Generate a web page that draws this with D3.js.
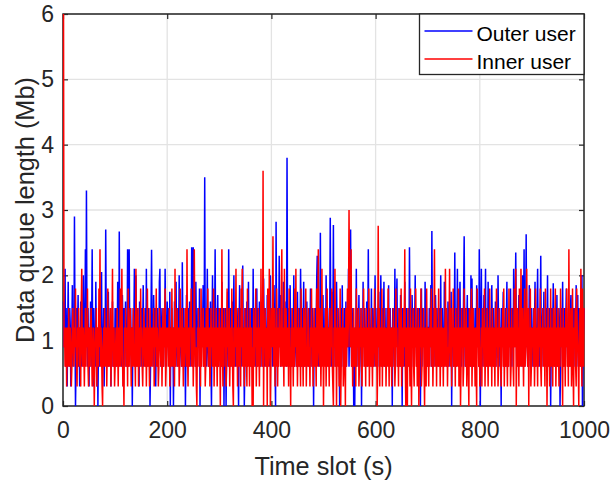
<!DOCTYPE html>
<html>
<head>
<meta charset="utf-8">
<script src="https://cdn.jsdelivr.net/npm/d3@7"></script>
<style>
  body { margin: 0; background: #fff; }
  text { font-family: "Liberation Sans", Arial, Helvetica, sans-serif; fill: #262626; }
</style>
</head>
<body>
<svg id="chart" width="611" height="480"></svg>
<script>
// ---- data (Mb per time slot 1..1000) ----
var xTicks = [0, 200, 400, 600, 800, 1000];
var yTicks = [0, 1, 2, 3, 4, 5, 6];
var seriesNames = ["Outer user", "Inner user"];
var seriesColors = ["#0000ff", "#ff0000"];

var outerUser = [
  // 1-100
  1.6,0.9,1.2,2.1,0.6,1.5,0.9,0.3,1.2,1.9,
  0.9,0.6,1.5,1.2,0.3,0.9,1.2,1.85,0.6,1.2,
  0.9,2.9,1.2,0,0.6,1.5,0.9,1.2,1.7,0.6,
  1.2,0.3,0.9,1.6,1.2,0.6,0.9,1.5,2.0,0.9,
  0.6,1.2,2.4,0.9,3.3,1.2,0.6,1.5,0.9,0.3,
  1.2,0.9,1.6,0.6,1.2,2.4,0.9,0.3,1.5,0.9,
  1.2,0.6,1.9,0.9,0.3,1.2,0,0.9,1.5,0.6,
  1.2,0.9,1.6,2.05,0.6,1.2,0.9,1.5,0.3,1.2,
  0.9,2.7,1.2,0.6,1.5,0.9,1.75,0.6,1.2,0.9,
  1.5,0.3,1.2,0.9,1.6,0.6,0.9,1.2,0.6,1.5,
  // 101-200
  1.2,0.6,1.5,0.9,1.9,1.2,0.6,2.67,0.9,1.2,
  1.5,0.6,0.9,1.7,1.2,0.3,1.5,0.9,1.2,1.6,
  0.6,1.2,0.9,2.4,1.5,0.6,2.4,1.2,0.9,1.5,
  0.6,1.2,0,0.9,1.5,1.2,2.1,0.6,0.9,2.0,
  1.2,0.6,1.5,0.9,1.2,0.3,1.6,0.9,1.2,0.6,
  1.5,0.9,1.2,1.85,0.6,0.9,1.2,1.5,0.6,2.1,
  0.9,1.2,0.6,1.5,0.9,1.2,0,0.6,1.5,2.39,
  1.2,0.9,0.6,1.7,1.2,0.9,1.5,0.3,1.2,0.9,
  1.5,0.6,1.2,0.9,1.9,2.1,0.9,0.6,1.2,1.5,
  0.9,1.2,0.6,1.5,0.9,2.1,1.2,0.6,0.9,1.6,
  // 201-300
  1.2,0.9,1.5,0.6,1.75,0,1.2,0.9,1.5,0.6,
  1.2,0,0.9,1.6,0.6,1.2,1.9,0.9,0.6,1.5,
  1.2,0.9,2.0,0.6,1.2,1.5,0.9,0.6,2.2,1.2,
  0.9,1.5,0.6,1.2,0,0.9,1.7,1.2,0.6,1.5,
  0.9,1.2,1.6,0.6,1.2,0.9,2.43,1.5,0.6,2.43,
  1.2,0.9,1.5,0.6,1.9,1.2,0.9,0.6,1.5,1.2,
  0.9,1.8,0,1.2,0.6,1.5,0.9,1.2,1.85,0.6,
  1.2,3.5,0.9,1.5,0.6,1.2,2.1,0.9,0.6,1.5,
  1.2,0.9,1.6,0.6,0,1.2,2.0,0.9,1.5,0.6,
  1.2,2.4,0.9,1.5,0.6,1.2,1.7,0.9,0.6,1.5,
  // 301-400
  1.2,0.9,1.5,0.6,1.9,1.2,0.9,1.5,0,1.2,
  0.6,1.5,0,0.9,1.2,1.75,0.6,2.4,1.2,0.9,
  1.5,0.6,1.2,0.9,1.6,0.6,1.2,2.0,0.9,1.5,
  0.6,1.2,0.9,1.5,1.2,0.6,0,1.2,1.85,0.9,
  1.5,0.6,1.2,1.7,2.15,0.9,1.2,0,0.6,1.5,
  1.2,0.9,1.6,0.6,1.2,1.9,0.9,1.5,0.6,1.2,
  0.9,1.5,1.2,0.6,2.1,0.9,1.2,1.5,0.6,0.9,
  1.2,1.8,0.6,1.5,0.9,1.2,1.6,0.6,1.2,0.9,
  1.5,0.6,1.2,0.9,1.95,1.2,0.6,1.5,0.9,1.2,
  0.6,1.7,1.2,0.9,1.5,0.6,1.2,2.0,0.9,1.5,
  // 401-500
  1.2,0.6,1.5,0.9,1.85,1.2,0.6,0,2.82,1.2,
  0.9,1.5,0.6,1.2,2.3,0.9,1.7,0.6,1.2,1.5,
  0.9,1.2,1.9,0.6,1.5,1.2,0.9,1.6,0.6,3.8,
  1.2,0.9,1.5,0.6,1.2,1.85,0.9,1.2,0.6,1.5,
  1.2,0.9,2.0,0.6,1.2,1.5,0.9,0.6,1.2,1.75,
  0.9,1.2,0.6,1.5,0.9,2.1,1.2,0.6,1.5,0.9,
  1.2,1.9,0.6,0.9,1.5,1.2,0.6,1.6,0.9,1.2,
  0.6,1.5,1.2,0.9,1.8,0.6,1.2,0.9,1.5,1.2,
  0,1.2,0.9,1.5,0.6,1.2,1.95,2.3,0.9,1.2,
  0.6,1.5,1.2,2.65,0.9,0.6,1.5,1.2,1.7,0.9,
  // 501-600
  1.2,0.9,1.5,0.6,2.0,1.2,0.9,1.5,0.6,1.2,
  0.9,1.5,2.88,1.2,0.6,1.75,0.9,1.2,2.77,0.6,
  1.5,0.9,1.2,0.6,1.9,1.2,0.9,1.5,0.6,1.2,
  0,0.9,1.5,1.2,0.6,1.85,0.9,1.2,0.6,1.5,
  1.2,0.9,1.6,0.6,1.2,1.5,0.9,2.1,0.6,1.2,
  0.9,2.7,1.2,0.6,1.5,0.9,1.2,0,0.6,0,
  1.2,0.9,2.1,0.6,1.5,1.2,0.9,1.7,0.6,1.2,
  0.9,1.5,0,1.2,0.6,1.9,0.9,1.2,1.5,0.6,
  1.2,0.9,1.6,0.6,1.2,2.4,0.9,1.5,0.6,1.2,
  0.9,1.8,0.6,1.2,1.5,0.9,0.6,1.2,2.0,0.9,
  // 601-700
  1.2,0.6,1.5,0.9,1.2,1.75,0.6,1.2,0.9,2.0,
  1.2,0.6,1.5,0.9,1.2,1.9,0.6,1.5,0.9,1.2,
  0.6,1.5,1.2,0.9,1.85,0.6,1.2,1.5,0.9,0.6,
  1.2,0,1.5,0.9,1.2,0.6,2.1,0.9,1.2,1.5,
  1.95,0.6,1.2,0.9,1.5,1.2,0.6,1.7,0.9,1.2,
  0,1.5,0.9,1.2,0.6,1.9,1.2,0.9,1.5,0.6,
  1.2,0.9,1.5,0.6,2.43,1.2,0.9,1.5,0.6,1.7,
  1.2,0.9,1.5,0.6,1.2,2.0,0.9,1.2,0.6,1.5,
  0.9,1.2,0.6,1.5,1.2,0,0.9,1.8,0.6,1.2,
  1.5,0.9,1.2,0.6,1.9,1.2,0.9,1.5,0.6,1.2,
  // 701-800
  1.2,0.6,1.5,0.9,1.2,1.85,0.6,2.68,1.2,0.9,
  1.5,0.6,1.2,0.9,1.7,1.2,0.6,1.5,0.9,1.2,
  0.6,1.5,1.2,0.9,2.0,0.6,1.2,1.5,0.9,1.2,
  0.6,1.9,1.2,0.9,1.5,0.6,1.2,0.9,1.6,1.2,
  0.6,1.5,0.9,1.2,1.75,0,1.2,0.9,1.5,0.6,
  1.2,2.35,0.9,1.5,0.6,1.2,2.1,0.9,1.2,0.6,
  1.5,1.9,0.9,1.2,0.6,1.5,1.2,0.9,1.8,2.6,
  1.2,0.6,1.5,0.9,1.2,1.7,0.6,1.2,1.5,0.9,
  1.2,0.6,2.0,1.2,1.95,0.9,1.5,0.6,1.2,0.9,
  1.5,1.2,0.6,1.85,0.9,1.2,1.5,0.6,2.4,1.2,
  // 801-900
  0,1.2,2.1,0.9,1.5,0.6,1.2,1.7,0.9,1.2,
  2.1,0.6,1.5,1.2,0.9,1.9,0.6,1.2,1.5,0.9,
  1.2,0.6,1.85,1.2,0.9,1.5,0.6,1.2,0.9,1.6,
  0.6,1.2,1.5,0.9,2.0,1.2,0.6,1.5,0.9,1.2,
  0,1.5,0.9,1.2,1.75,0.6,1.2,0.9,1.5,0.6,
  1.2,1.9,0.9,1.2,0.6,1.5,0.9,1.2,1.8,0.6,
  1.2,0.9,1.5,0.6,2.1,1.2,0.9,1.5,2.35,1.2,
  0.6,1.5,0.9,1.2,1.7,0.6,1.2,0.9,1.5,1.2,
  0.6,2.0,0.9,1.2,2.4,0.6,1.5,1.2,2.63,0.9,
  1.2,0.6,1.5,0.9,1.85,1.2,0.6,1.2,1.5,0.9,
  // 901-1000
  1.2,0.6,1.5,0.9,1.2,1.9,0.6,1.2,0.9,1.5,
  2.1,0.9,1.2,0.6,1.5,1.2,2.3,0.9,0.6,1.2,
  1.5,0.9,1.75,0.6,1.2,0.9,1.5,0.6,1.2,2.0,
  0.9,1.2,0.6,1.5,1.2,0,0.9,1.5,0.6,1.2,
  1.88,0.9,1.2,0.6,1.5,1.2,0.9,1.7,0.6,1.2,
  0.9,1.5,1.2,0,0.6,1.5,0.9,1.2,1.9,0.6,
  1.2,0.9,1.5,0.6,1.2,1.8,0.9,1.2,0.6,1.5,
  1.2,0.9,0.6,1.5,1.7,1.2,0.9,0.6,1.5,1.2,
  0.9,1.5,0.6,1.2,1.85,0.9,1.2,1.7,0.6,1.5,
  1.2,0.9,1.5,0.6,1.2,2.0,0,0.9,1.2,1.5
];

var innerUser = [
  // 1-100
  6.0,0.9,1.2,0.6,0.9,1.2,0.3,0.9,1.2,0.6,
  1.5,0.9,0.6,1.2,0.9,0.3,0.6,1.2,1.5,0.9,
  0.6,1.2,0.9,1.8,0.9,0.6,0.3,1.2,0.9,1.5,
  0.6,0.9,1.2,0.3,1.5,2.1,0.9,0.6,1.2,0.9,
  0.3,0.9,1.5,0.6,1.2,0.9,1.8,0.6,0.3,1.2,
  0.9,0.6,1.2,1.5,0.9,0.3,0.6,1.2,0.9,0,
  0.6,1.2,0.9,1.5,0.3,0.9,1.2,0.6,1.8,0.9,
  2.4,0.6,1.2,0.9,0.3,0,0.9,1.2,0.6,1.5,
  0.9,0.6,1.2,0.3,0.9,1.8,0.6,1.2,0.9,0.6,
  1.5,0.3,0.9,1.2,2.1,0.6,0.9,1.2,0.3,0.6,
  // 101-200
  0.9,1.2,0.6,1.5,0.9,0.3,1.2,0.6,0.9,1.8,
  0.6,1.2,2.1,0.9,0.3,0.6,0,1.2,0.9,1.5,
  0.6,0.9,1.2,0.3,1.8,0.9,0.6,1.2,1.5,0.9,
  0.3,1.2,0.9,0.6,1.5,1.2,0.6,0.9,0.3,2.1,
  0.9,0.6,1.2,1.5,0.3,0.9,1.2,0.6,1.8,0.9,
  1.2,0.6,0.3,0.9,1.5,1.2,0.6,0.9,1.2,0.3,
  0.9,1.8,0.6,1.2,0.9,0.3,1.5,0.6,1.2,0.9,
  0.6,1.2,0.9,1.5,0.3,0.6,1.2,0.9,1.8,0.6,
  1.2,0.9,0.3,0.6,1.5,1.2,0.9,0.6,1.2,0.3,
  0.9,1.5,0.6,1.2,0.9,1.8,0.3,0.6,1.2,0.9,
  // 201-300
  1.2,0.6,0.9,1.5,0.3,1.2,0.9,0.6,1.8,0.9,
  0.6,1.2,0.9,0.3,2.1,0.6,1.2,0.9,1.5,0.6,
  0.9,1.2,0.3,0.6,1.8,0.9,1.2,0.6,1.5,0.9,
  0.3,1.2,0.6,0.9,1.5,1.2,0.6,2.4,0.9,0.3,
  1.2,0.9,0.6,1.5,1.2,1.8,0.6,0.9,1.2,0.3,
  0.9,2.4,1.2,0.6,0.9,0.3,0,1.2,0.9,1.5,
  0.6,1.2,0.9,0.3,1.8,0.6,1.2,0.9,1.5,0.6,
  0.9,1.2,0.3,0.6,1.5,0.9,1.2,1.8,0.6,0.9,
  1.2,0.3,0.6,1.5,0.9,1.2,0.6,0.9,1.8,0.3,
  0.9,1.2,0.6,1.5,0.9,0.3,1.2,0.6,0.9,1.5,
  // 301-400
  0.9,0,1.2,0.6,2.4,0.9,0.3,1.2,0.6,1.5,
  0.9,1.2,0.3,0.6,1.8,0.9,1.2,0.6,1.5,0.3,
  0.9,1.2,0.6,1.8,0.9,0.3,0,1.2,0.6,1.5,
  0.9,2.1,0.6,1.2,0.3,0.9,1.5,0.6,1.2,0.9,
  0.3,1.8,0.9,2.1,0.6,1.2,0.9,0.3,1.5,0.6,
  1.2,0.9,0.3,1.8,0.6,0.9,1.2,0.3,1.5,0.9,
  0.6,1.2,0,0.9,0,1.5,0.6,1.2,0.9,1.8,
  0.3,0.9,1.2,0.6,1.5,0.9,0.3,1.2,0.6,2.1,
  0.9,1.2,0.6,3.6,0,1.2,0.9,1.5,0.6,0.9,
  1.2,0,1.8,0.6,0.9,2.1,1.2,0,0.6,1.5,
  // 401-500
  0.9,1.2,2.6,0.6,0.9,1.5,0.3,1.2,0.6,1.8,
  0.9,0.3,1.2,0.6,1.5,0.9,1.2,0.6,1.8,2.4,
  0.6,1.2,0.9,0.3,2.1,0.9,0.6,1.5,1.2,0.6,
  0.9,1.2,0.3,1.8,0.6,0.9,0,1.2,0.6,1.5,
  0.9,0.3,1.2,0.6,1.8,0.9,2.1,0.6,1.2,0.3,
  0.9,1.5,0.6,1.2,0.9,0.3,1.8,0.6,1.2,0.9,
  0.3,1.5,0.9,0.6,1.2,1.8,0.3,0.9,0.6,1.2,
  1.5,0.6,0.9,0.3,1.2,0.9,1.8,0.6,1.2,0.3,
  0.9,1.5,0.6,1.2,0.9,0.3,1.8,0.6,1.2,2.4,
  0.9,0.6,1.5,1.2,0.3,0.9,2.1,0.6,1.2,0,
  // 501-600
  0.9,1.2,0.6,1.5,0.3,0.9,1.8,0.6,1.2,0.9,
  0.3,1.5,0.6,1.2,0.9,1.8,0.6,0.3,0,1.2,
  0.9,2.1,0.6,1.2,0,0.9,1.5,0.6,1.2,0.3,
  0.9,1.8,0,0.6,1.2,0.9,1.5,0.3,0.6,1.2,
  0.9,0,1.5,0.6,1.2,1.8,0.9,1.5,3.0,1.8,
  0.9,1.5,2.4,0.6,1.2,0.3,0.9,1.5,0.6,1.2,
  0.9,0.3,1.8,0.6,1.2,0.9,1.5,0.3,0.6,1.2,
  0.9,1.5,0.6,0.3,1.2,0.9,1.8,0.6,0.9,1.2,
  0.3,1.5,0.6,0.9,1.2,0.6,1.8,0.3,0.9,1.2,
  0.6,1.5,0.9,0.3,1.2,0.6,0.9,1.8,1.2,0.6,
  // 601-700
  0.9,1.2,0,0.6,2.76,0.9,1.5,0.3,1.2,0.6,
  0.9,1.8,0.3,1.2,0.6,0.9,1.5,0.6,1.2,0.3,
  0.9,1.2,0.6,1.8,0.9,0.3,1.5,0.6,1.2,0.9,
  0.3,1.2,0.6,1.5,0.9,1.2,0.3,0.6,1.8,0.9,
  1.2,0.6,0.9,0.3,1.5,1.2,0.6,0.9,1.8,0.3,
  0.9,1.2,0.6,1.5,0.9,2.4,0.6,0,1.2,0.9,
  0,1.5,0.6,1.2,0.9,0.3,1.8,0.6,0,1.2,
  0.9,1.5,0.6,0.3,1.2,0.9,1.8,0.6,1.2,0.3,
  0.9,1.5,0,0.6,1.2,0.9,1.8,0.3,0.6,1.2,
  0.9,1.5,0.6,0,1.2,0.9,0.3,1.8,0.6,1.2,
  // 701-800
  0.9,0.3,1.2,0.6,1.5,0.9,1.8,0.6,1.2,0.3,
  0.9,1.2,2.4,0.6,0.9,1.5,0.3,1.2,0.6,0.9,
  1.8,0.6,1.2,0.3,0.9,1.5,0.6,1.2,0.9,0.3,
  1.2,0.6,0.9,2.1,0.6,1.5,1.2,0.3,0.9,0.6,
  1.2,2.1,0.9,0.6,1.5,0.3,1.2,0.9,1.8,0.6,
  0.9,1.2,0.3,1.5,0.6,0.9,1.2,0.6,1.8,0.3,
  0.9,1.2,0,0.6,1.5,0.9,1.2,0.3,0.6,1.8,
  0.9,1.2,0.6,1.5,0.3,0.9,1.2,0.6,0,1.5,
  0.9,0.6,1.2,1.8,0.3,0.9,1.5,0.6,1.2,0.9,
  0.3,1.2,0.6,0,1.8,0.9,1.2,0.6,1.5,0.3,
  // 801-900
  0.9,0.6,1.2,0.3,1.5,0.9,1.2,0.6,1.8,0.3,
  0.9,1.2,0.6,1.5,0.9,0.3,1.2,0.6,1.8,0.9,
  0.6,1.2,0.3,1.5,0.9,0.6,1.2,0.9,0.3,1.5,
  0.6,1.8,0.9,1.2,0.3,0.6,1.5,0.9,1.2,0.6,
  0.3,1.2,0.9,1.5,0.6,1.8,0.3,0.9,1.2,0.6,
  1.5,0.9,0.3,1.2,0.6,1.8,0.9,1.2,0.3,0.6,
  1.5,0.9,1.2,0.6,0.3,1.8,0.9,1.2,2.1,0,
  0.9,1.5,0.6,1.2,0.3,1.8,0.9,0.6,2.1,1.2,
  0.6,1.5,0.9,0.3,1.2,1.8,0.6,0.9,1.2,2.1,
  0.9,0.6,1.5,0,1.2,0.9,1.8,0.3,0.6,1.2,
  // 901-1000
  0.9,1.2,0.6,1.5,0.3,0.9,1.8,0.6,1.2,0.9,
  0.3,1.5,0.6,1.2,0.9,1.8,0.6,0.3,1.2,0.9,
  1.5,0.6,1.2,0.9,0.3,1.8,0.6,1.2,0,0.9,
  1.5,0.6,1.2,0.3,0.9,1.8,0.6,1.2,0.9,0.3,
  1.5,0.9,0.6,1.2,1.8,0.3,0.9,1.2,0.6,1.5,
  0.9,0.3,1.2,0.6,1.8,0.9,1.2,0.6,0,1.5,
  0.9,0.6,1.2,0.3,1.5,0.9,1.8,0.6,1.2,0.3,
  2.4,0.9,0.6,1.2,1.5,0.3,0.9,1.8,0.6,0,
  1.2,0.9,1.5,0.6,0.3,1.8,1.2,0.9,0.6,0,
  1.2,1.5,0.6,2.1,0.9,0.3,1.8,1.2,0.6,1.5
];

// ---- layout ----
var W = 611, H = 480;
var margin = { top: 14, right: 27, bottom: 74, left: 63 };
var plotW = W - margin.left - margin.right;
var plotH = H - margin.top - margin.bottom;
var axisColor = "#262626";

var svg = d3.select("#chart");
var g = svg.append("g").attr("transform", "translate(" + margin.left + "," + margin.top + ")");

var x = d3.scaleLinear().domain([0, 1000]).range([0, plotW]);
var y = d3.scaleLinear().domain([0, 6]).range([plotH, 0]);

// grid
g.append("g").selectAll("line.gx").data(xTicks).enter().append("line")
  .attr("x1", function (d) { return x(d); }).attr("x2", function (d) { return x(d); })
  .attr("y1", 0).attr("y2", plotH)
  .attr("stroke", "#e3e3e3").attr("stroke-width", 1.3);
g.append("g").selectAll("line.gy").data(yTicks).enter().append("line")
  .attr("x1", 0).attr("x2", plotW)
  .attr("y1", function (d) { return y(d); }).attr("y2", function (d) { return y(d); })
  .attr("stroke", "#e3e3e3").attr("stroke-width", 1.3);

// axes (ticks pointing inward, all four sides)
function styleAxis(sel) {
  sel.select(".domain").remove();
  sel.selectAll(".tick line").attr("stroke", axisColor).attr("stroke-width", 1.2);
  sel.selectAll(".tick text").attr("fill", axisColor).style("font-size", "23px");
}

g.append("g").attr("transform", "translate(0," + plotH + ")")
  .call(d3.axisBottom(x).tickValues(xTicks).tickFormat(d3.format("d"))
    .tickSizeInner(-5).tickSizeOuter(0).tickPadding(16))
  .call(styleAxis);
g.append("g")
  .call(d3.axisLeft(y).tickValues(yTicks).tickFormat(d3.format("d"))
    .tickSizeInner(-5).tickSizeOuter(0).tickPadding(9))
  .call(styleAxis);
g.append("g")
  .call(d3.axisTop(x).tickValues(xTicks).tickSizeInner(-5).tickSizeOuter(0).tickFormat(""))
  .call(styleAxis);
g.append("g").attr("transform", "translate(" + plotW + ",0)")
  .call(d3.axisRight(y).tickValues(yTicks).tickSizeInner(-5).tickSizeOuter(0).tickFormat(""))
  .call(styleAxis);

g.append("rect")
  .attr("x", 0).attr("y", 0).attr("width", plotW).attr("height", plotH)
  .attr("fill", "none").attr("stroke", axisColor).attr("stroke-width", 1.5);

// series (outer first, inner drawn on top)
var line = d3.line()
  .x(function (d, i) { return x(i + 1); })
  .y(function (d) { return y(d); });

[outerUser, innerUser].forEach(function (values, k) {
  g.append("path")
    .datum(values)
    .attr("d", line)
    .attr("fill", "none")
    .attr("stroke", seriesColors[k])
    .attr("stroke-width", 1.5);
});

// axis labels
svg.append("text")
  .attr("x", margin.left + plotW / 2).attr("y", 475)
  .attr("text-anchor", "middle")
  .style("font-size", "25.3px")
  .text("Time slot (s)");

svg.append("text")
  .attr("transform", "translate(33.5," + (margin.top + plotH / 2) + ") rotate(-90)")
  .attr("text-anchor", "middle")
  .style("font-size", "25.3px")
  .text("Data queue length (Mb)");

// legend
var lg = g.append("g").attr("transform", "translate(" + (plotW - 164.5) + ",0)");
lg.append("rect")
  .attr("x", 0).attr("y", 0).attr("width", 164.5).attr("height", 60.5)
  .attr("fill", "#fff").attr("stroke", axisColor).attr("stroke-width", 1.3);
seriesNames.forEach(function (name, k) {
  var cy = 17 + k * 28;
  lg.append("line")
    .attr("x1", 5).attr("x2", 53).attr("y1", cy).attr("y2", cy)
    .attr("stroke", seriesColors[k]).attr("stroke-width", 1.3);
  lg.append("text")
    .attr("x", 57).attr("y", cy + 9.5)
    .style("font-size", "21px")
    .style("fill", "#000")
    .text(name);
});
</script>
</body>
</html>
